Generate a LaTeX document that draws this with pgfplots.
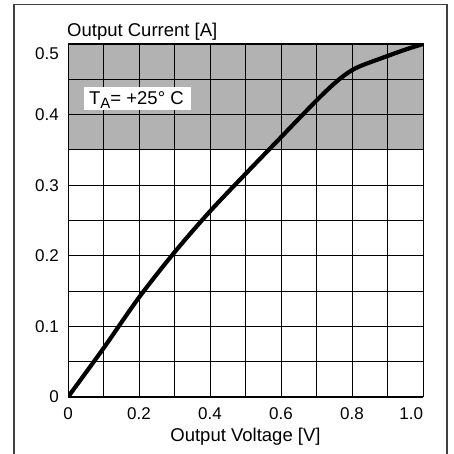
\documentclass[border=0pt]{standalone}
\usepackage{fontspec}
\setmainfont{Liberation Sans}
\usepackage{pgfplots}
\pgfplotsset{compat=1.18}
\begin{document}
\begin{tikzpicture}[x=1pt,y=1pt]
\begin{axis}[
    set layers,
    scale only axis,
    width=355pt, height=353pt,
    at={(68pt,57pt)}, anchor=south west,
    xmin=0, xmax=1, ymin=0, ymax=0.5,
    xtick={0,0.2,0.4,0.6,0.8,1},
    minor xtick={0.1,0.3,0.5,0.7,0.9},
    ytick={0,0.1,0.2,0.3,0.4,0.5},
    minor ytick={0.05,0.15,0.25,0.35,0.45},
    xticklabels={0,0.2,0.4,0.6,0.8,\llap{1.0}\hspace{2pt}},
    yticklabels={0,0.1,0.2,0.3,0.4,{}},
    grid=both,
    major grid style={black, line width=0.9pt},
    minor grid style={black, line width=0.9pt},
    major tick length=0pt, minor tick length=0pt,
    axis line style={black, line width=1pt},
    tick label style={font=\fontsize{17}{18}\selectfont},
    xticklabel style={anchor=north, inner sep=0pt, yshift=-10pt},
    yticklabel style={anchor=east, inner sep=0pt, xshift=-9pt},
]
% shaded region 0.35 .. 0.5
\addplot[on layer=axis background, fill=black!30, draw=none]
    coordinates {(0,0.35) (1,0.35) (1,0.5) (0,0.5)} -- cycle;

\addplot[black, line width=4.2pt, line join=round, smooth, tension=0.5]
    coordinates {
    (0,0) (0.1,0.069) (0.2,0.141) (0.3,0.205) (0.4,0.263) (0.5,0.316)
    (0.6,0.368) (0.7,0.420) (0.75,0.444) (0.785,0.458) (0.82,0.468)
    (0.9,0.483) (0.95,0.492) (1.0,0.500)
    };

\node[fill=white, inner sep=0pt, minimum width=107pt, minimum height=23pt,
      anchor=south west] at (axis cs:0.045,0.4065) {};
\node[anchor=base west, inner sep=0pt, font=\fontsize{18.5}{20}\selectfont]
    at (axis cs:0.059,0.415)
    {T\raisebox{-4.3pt}{\fontsize{15}{15}\selectfont A}= +25° C};
\end{axis}

\node[anchor=east, inner sep=0pt, font=\fontsize{17}{18}\selectfont]
    at (59,400.5) {0.5};
\node[anchor=base west, inner sep=0pt, font=\fontsize{18.5}{20}\selectfont]
    at (67,417) {Output Current [A]};
\node[anchor=base, inner sep=0pt, font=\fontsize{18.5}{20}\selectfont]
    at (245.5,12.5) {Output Voltage [V]};

\draw[black!75, line width=1.3pt] (14,0) -- (14,449.5) -- (447,449.5) -- (447,0);

\pgfresetboundingbox
\path[use as bounding box] (0,0) rectangle (453,454);
\end{tikzpicture}
\end{document}
